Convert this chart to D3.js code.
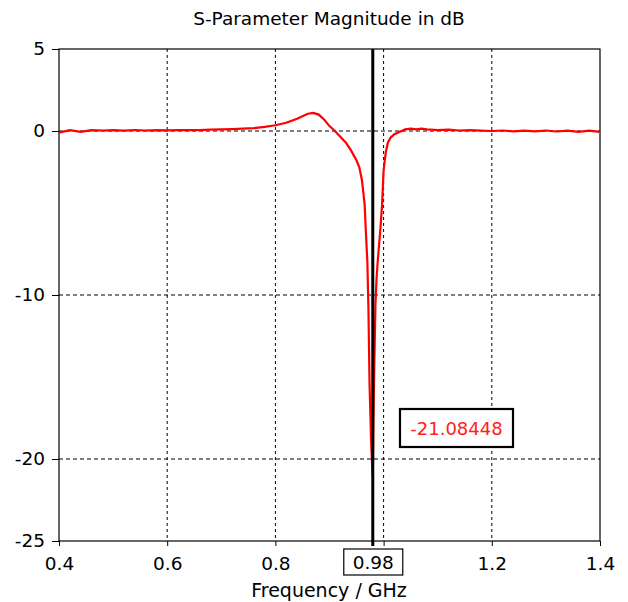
<!DOCTYPE html>
<html><head><meta charset="utf-8">
<script src="https://cdn.jsdelivr.net/npm/d3@7"></script>
<style>body{margin:0;background:#fff}svg{display:block}text{font-family:"DejaVu Sans",Verdana,sans-serif}</style>
</head><body><svg id="c" width="628" height="602"></svg>
<script>
const title = "S-Parameter Magnitude in dB";
const xLabel = "Frequency / GHz";
const xTicks = [0.4, 0.6, 0.8, 1.0, 1.2, 1.4];
const xTickLabels = ["0.4", "0.6", "0.8", "", "1.2", "1.4"];
const yTicks = [5, 0, -10, -20, -25];
const yTickLabels = ["5", "0", "-10", "-20", "-25"];
const xGrid = [0.6, 0.8, 1.0, 1.2];
const yGrid = [0, -10, -20];
const markerFreq = 0.98;
const markerValue = "-21.08448";
const markerFreqLabel = "0.98";
const freq = [0.40,0.42,0.44,0.46,0.48,0.50,0.52,0.54,0.56,0.58,0.60,0.62,0.64,0.66,0.68,0.70,0.72,0.74,0.76,0.78,0.80,0.82,0.84,0.85,0.86,0.87,0.88,0.89,0.90,0.91,0.92,0.93,0.94,0.95,0.955,0.96,0.965,0.967,0.970,0.972,0.974,0.977,0.979,0.980,0.981,0.983,0.985,0.987,0.989,0.991,0.994,0.997,1.000,1.004,1.008,1.013,1.02,1.03,1.04,1.05,1.06,1.07,1.08,1.10,1.12,1.14,1.16,1.18,1.20,1.22,1.24,1.26,1.28,1.30,1.32,1.34,1.36,1.38,1.40];
const sdb = [-0.1,0.05,-0.05,0.05,0.03,0.05,0.02,0.06,0.03,0.05,0.04,0.05,0.06,0.05,0.08,0.1,0.12,0.15,0.18,0.25,0.35,0.5,0.75,0.9,1.05,1.1,1.0,0.7,0.3,0.0,-0.35,-0.7,-1.2,-1.8,-2.2,-3.0,-4.5,-6.0,-8.0,-10.9,-15.4,-19.0,-20.5,-21.08448,-18.2,-14.0,-10.5,-9.0,-8.0,-7.2,-6.0,-4.6,-2.4,-1.3,-0.7,-0.4,-0.2,-0.05,0.1,0.15,0.1,0.15,0.1,0.05,0.08,0.03,0.05,0.02,0.0,0.03,-0.02,0.02,-0.02,0.03,-0.03,0.02,-0.05,0.02,-0.05];

const FS = 18.5;
const svg = d3.select("#c");
const L = 59, R = 600, T = 49, B = 541;
const x = d3.scaleLinear().domain([0.4, 1.4]).range([L, R]);
const y = d3.scaleLinear().domain([-25, 5]).range([B, T]);

// grid
svg.append("g").selectAll("line").data(xGrid).join("line")
  .attr("x1", d => x(d)).attr("x2", d => x(d)).attr("y1", T).attr("y2", B)
  .attr("stroke", "#000").attr("stroke-dasharray", "3,3").attr("stroke-width", 1);
svg.append("g").selectAll("line").data(yGrid).join("line")
  .attr("x1", L).attr("x2", R).attr("y1", d => y(d)).attr("y2", d => y(d))
  .attr("stroke", "#000").attr("stroke-dasharray", "4,3").attr("stroke-width", 1);

// axes
const xAxis = d3.axisBottom(x).tickValues(xTicks).tickSize(5).tickPadding(0).tickFormat((d, i) => xTickLabels[i]);
const gx = svg.append("g").attr("transform", `translate(0,${B})`).call(xAxis);
gx.select(".domain").remove();
gx.selectAll("line").attr("stroke", "#000");
gx.selectAll("text").attr("font-size", FS).attr("fill", "#000").attr("y", 29).attr("dy", null);
const yAxis = d3.axisLeft(y).tickValues(yTicks).tickSize(7).tickFormat((d, i) => yTickLabels[i]);
const gy = svg.append("g").attr("transform", `translate(${L},0)`).call(yAxis);
gy.select(".domain").remove();
gy.selectAll("line").attr("stroke", "#000");
gy.selectAll("text").attr("font-size", FS).attr("fill", "#000").attr("x", -14);

// frame
svg.append("rect").attr("x", L).attr("y", T).attr("width", R - L).attr("height", B - T)
  .attr("fill", "none").attr("stroke", "#000").attr("stroke-width", 1.2);

// curve
const line = d3.line().x((d, i) => x(freq[i])).y(d => y(d));
svg.append("path").datum(sdb).attr("d", line).attr("fill", "none")
  .attr("stroke", "#ff0000").attr("stroke-width", 2.2);

// marker line
svg.append("line").attr("x1", x(markerFreq)).attr("x2", x(markerFreq)).attr("y1", T).attr("y2", B + 5)
  .attr("stroke", "#000").attr("stroke-width", 3);

// marker freq box
const mx = x(markerFreq);
svg.append("rect").attr("x", mx - 29).attr("y", 549).attr("width", 59).attr("height", 26)
  .attr("fill", "#fff").attr("stroke", "#000").attr("stroke-width", 1.2);
svg.append("text").attr("x", mx + 0.5).attr("y", 569).attr("text-anchor", "middle")
  .attr("font-size", FS).text(markerFreqLabel);

// value box
svg.append("rect").attr("x", 400).attr("y", 409).attr("width", 113).attr("height", 38)
  .attr("fill", "#fff").attr("stroke", "#000").attr("stroke-width", 2.2);
svg.append("text").attr("x", 456.5).attr("y", 435).attr("text-anchor", "middle")
  .attr("font-size", 18).attr("fill", "#ff2020").text(markerValue);

// titles
svg.append("text").attr("x", 329).attr("y", 25).attr("text-anchor", "middle")
  .attr("font-size", FS).text(title);
svg.append("text").attr("x", 329).attr("y", 597).attr("text-anchor", "middle")
  .attr("font-size", 19).text(xLabel);
</script></body></html>
